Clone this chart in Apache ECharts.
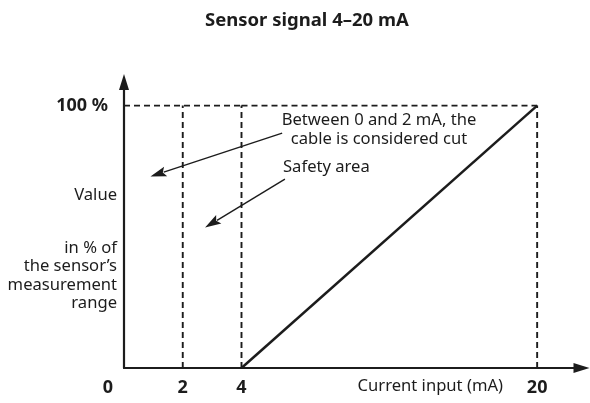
<!DOCTYPE html>
<html>
<head>
<meta charset="utf-8">
<script src="https://cdn.jsdelivr.net/npm/echarts@6/dist/echarts.min.js"></script>
<style>
  html, body { margin: 0; padding: 0; background: #fff; }
  #chart { width: 590px; height: 403px; }
</style>
</head>
<body>
<div id="chart"></div>
<script>
// Sensor transfer characteristic: 4–20 mA mapped to 0–100 % of range
const FONT = 'Noto Sans';
const INK = '#1c1c1c';

const titleText = 'Sensor signal 4–20 mA';
const xTicksLow = [0, 2, 4];        // cut-cable / safety region (mA)
const xTicksHigh = [20];            // full scale (mA)
const yTicks = [100];               // percent
const signalLine = [[4, 0], [20, 100]];   // current (mA) -> value (%)
const cutLimit = 2;                 // below this the cable counts as cut
const liveZero = 4;                 // 4 mA = 0 %
const fullScale = 20;               // 20 mA = 100 %
const topValue = 100;
const xAxisName = 'Current input (mA)';
const yNameLines = ['Value', 'in % of\nthe sensor\u2019s\nmeasurement\nrange'];
const noteCut = 'Between 0 and 2 mA, the\ncable is considered cut';
const noteSafety = 'Safety area';

// annotation arrows: [grid, x, y] for tail and tip, in data units
const arrowCut = { tail: [1, 6.2, 89.5], tip: [0, 0.9, 73] };
const arrowSafety = { tail: [1, 6.35, 72], tip: [0, 2.76, 53.5] };

const chart = echarts.init(document.getElementById('chart'));

const dashed = { color: INK, width: 1.9, type: [6, 4] };
function segment(grid, pts, style) {
  return {
    type: 'line', xAxisIndex: grid, yAxisIndex: grid, data: pts,
    symbol: 'none', silent: true, animation: false,
    lineStyle: style
  };
}

const Y_MAX = 109;
const BOLD = { fontFamily: FONT, fontSize: 18, fontWeight: 'bold', color: INK };

chart.setOption({
  animation: false,
  title: {
    text: titleText, left: 200, top: 6,
    textStyle: { fontFamily: FONT, fontSize: 18.5, fontWeight: 'bold', color: INK }
  },
  grid: [
    { left: 124, top: 82, width: 117.5, height: 286 },
    { left: 241.5, top: 82, width: 340, height: 286 }
  ],
  xAxis: [
    {
      type: 'value', gridIndex: 0, min: 0, max: liveZero,
      splitLine: { show: false }, axisTick: { show: false },
      axisLine: { show: true, lineStyle: { color: INK, width: 2.2 } },
      axisLabel: {
        customValues: xTicksLow, margin: 11,
        formatter: v => v === 0 ? '{o|0}' : '{b|' + v + '}',
        rich: {
          o: Object.assign({ padding: [0, 32, 0, 0] }, BOLD),
          b: BOLD
        }
      }
    },
    {
      type: 'value', gridIndex: 1, min: liveZero, max: 22.4,
      splitLine: { show: false }, axisTick: { show: false },
      axisLine: {
        show: true, symbol: ['none', 'triangle'], symbolSize: [10, 16],
        lineStyle: { color: INK, width: 2.2 }
      },
      axisLabel: Object.assign({ customValues: xTicksHigh, margin: 11 }, BOLD)
    }
  ],
  yAxis: [
    {
      type: 'value', gridIndex: 0, min: 0, max: Y_MAX,
      splitLine: { show: false }, axisTick: { show: false },
      axisLine: {
        show: true, symbol: ['none', 'triangle'], symbolSize: [10, 16],
        lineStyle: { color: INK, width: 2.2 }
      },
      axisLabel: Object.assign({ customValues: yTicks, margin: 16, formatter: '{value} %' }, BOLD)
    },
    {
      type: 'value', gridIndex: 1, min: 0, max: Y_MAX, show: false
    }
  ],
  series: [
    segment(0, [[cutLimit, 0], [cutLimit, topValue]], dashed),
    segment(0, [[0, topValue], [liveZero, topValue]], dashed),
    segment(1, [[liveZero, 0], [liveZero, topValue]], dashed),
    segment(1, [[liveZero, topValue], [fullScale, topValue]], dashed),
    segment(1, [[fullScale, 0], [fullScale, topValue]], dashed),
    segment(1, signalLine, { color: INK, width: 2.5 })
  ]
});

// text and arrows drawn on top of the grids
function px(p) {
  return chart.convertToPixel({ gridIndex: p[0] }, [p[1], p[2]]);
}
function arrow(a) {
  const t = px(a.tail), h = px(a.tip);
  const dx = h[0] - t[0], dy = h[1] - t[1];
  const len = Math.hypot(dx, dy), ux = dx / len, uy = dy / len;
  const headLen = 16, headHalf = 5;
  const bx = h[0] - ux * headLen, by = h[1] - uy * headLen;
  return [
    { type: 'line', shape: { x1: t[0], y1: t[1], x2: bx + ux * 2, y2: by + uy * 2 },
      style: { stroke: INK, lineWidth: 1.4 } },
    { type: 'polygon',
      shape: { points: [h, [bx - uy * headHalf, by + ux * headHalf], [bx + ux * 3, by + uy * 3], [bx + uy * headHalf, by - ux * headHalf]] },
      style: { fill: INK } }
  ];
}
const txt = (x, y, text, align, extra) => ({
  type: 'text', x, y,
  style: Object.assign({
    text, fill: INK, font: '16.6px "' + FONT + '"', textAlign: align,
    textVerticalAlign: 'middle', lineHeight: 18.5
  }, extra || {})
});

chart.setOption({
  graphic: [
    txt(117, 195, yNameLines[0], 'right'),
    txt(117, 276, yNameLines[1], 'right'),
    txt(379, 129.5, noteCut, 'center', { lineHeight: 19 }),
    txt(283, 167, noteSafety, 'left'),
    txt(503, 386, xAxisName, 'right')
  ].concat(arrow(arrowCut), arrow(arrowSafety))
});
</script>
</body>
</html>
